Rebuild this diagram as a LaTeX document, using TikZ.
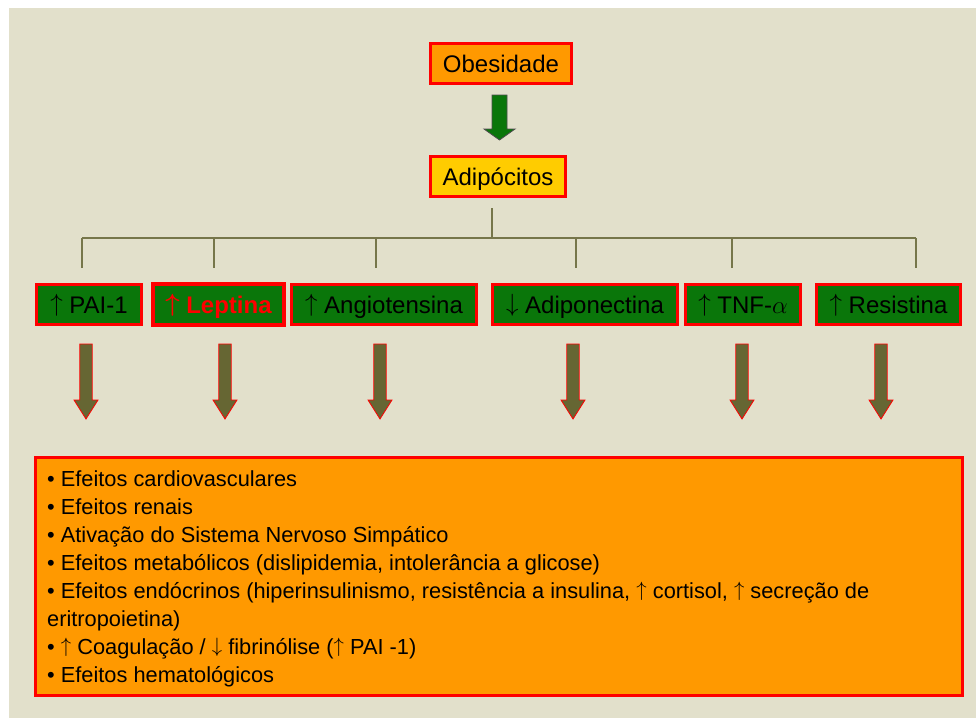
\documentclass[tikz,border=0pt]{standalone}
\usepackage{fontspec}
\setmainfont{Liberation Sans}
\definecolor{bgc}{HTML}{E2E0CB}
\definecolor{boxgreen}{HTML}{0A760A}
\definecolor{orangefill}{HTML}{FF9900}
\definecolor{yellowfill}{HTML}{FFCC00}
\definecolor{olivefill}{HTML}{666633}
\definecolor{treeline}{HTML}{76764A}
\newcommand{\upar}{\raisebox{0.08em}{$\uparrow$}}
\newcommand{\dnar}{\raisebox{0.08em}{$\downarrow$}}
\begin{document}
\begin{tikzpicture}[x=1pt,y=-1pt,
  lbl/.style={draw=red, line width=3pt, minimum height=40pt, inner sep=0pt,
    text height=17.2pt, text depth=0pt,
    font=\fontsize{24}{28}\selectfont, text=black},
  gbox/.style={lbl, fill=boxgreen},
  tree/.style={draw=treeline, line width=1.3pt},
  olivearrow/.pic={\draw[draw=red, line width=0.8pt, fill=olivefill]
    (-6.2,0) -- (6.2,0) -- (6.2,56) -- (12,56) -- (0,75) -- (-12,56) -- (-6.2,56) -- cycle;},
  greenarrow/.pic={\draw[draw=black!70, line width=0.8pt, fill=boxgreen]
    (-7.5,0) -- (7.5,0) -- (7.5,34) -- (15.5,34) -- (0,45) -- (-15.5,34) -- (-7.5,34) -- cycle;}
]
\useasboundingbox (0,0) rectangle (976,718);
\fill[white] (0,0) rectangle (976,718);
\fill[bgc] (9,8) rectangle (976,718);

\node[lbl, fill=orangefill, minimum width=141pt] (obes) at (501,63.5) {Obesidade};
\node[lbl, fill=yellowfill, minimum width=135pt] (adip) at (498,176.5) {Adipócitos};
\pic at (499.5,95) {greenarrow};

\node[gbox, minimum width=105pt] (pai) at (89,304.5) {\upar{} PAI-1};
\node[gbox, line width=4pt, minimum width=131pt, minimum height=41pt, text=red,
  font=\fontsize{24}{28}\selectfont\bfseries\boldmath] (lep) at (218.5,304.5) {\upar{} Leptina};
\node[gbox, minimum width=185pt] (ang) at (384,304.5) {\upar{} Angiotensina};
\node[gbox, minimum width=185pt] (adipo) at (585,304.5) {\dnar{} Adiponectina};
\node[gbox, minimum width=115pt] (tnf) at (743,304.5) {\upar{} TNF-$\alpha$};
\node[gbox, minimum width=144pt] (res) at (888.5,304.5) {\upar{} Resistina};

\coordinate (t0) at (492,208);
\coordinate (hub) at (492,238);
\foreach \i/\x in {1/82,2/214,3/376,4/576,5/732,6/916} {\coordinate (leaf\i) at (\x,268);}
\draw[tree] (t0) -- (hub);
\draw[tree] (leaf1 |- hub) -- (leaf6 |- hub);
\foreach \i in {1,...,6} {\draw[tree] (leaf\i |- hub) -- (leaf\i);}

\foreach \x in {86,225,380,573,742,881} {\pic at (\x,344) {olivearrow};}

\node[draw=red, line width=3pt, fill=orangefill, minimum width=927pt, minimum height=238pt] (effects) at (499,576.5) {};
\node[anchor=north west, inner sep=0pt, align=left, font=\fontsize{21.8}{28}\selectfont] (efftext) at (47,470.5)
 {• Efeitos cardiovasculares\\
  • Efeitos renais\\
  • Ativação do Sistema Nervoso Simpático\\
  • Efeitos metabólicos (dislipidemia, intolerância a glicose)\\
  • Efeitos endócrinos (hiperinsulinismo, resistência a insulina, \upar{} cortisol, \upar{} secreção de\\
  eritropoietina)\\
  • \upar{} Coagulação / \dnar{} fibrinólise (\upar{} PAI -1)\\
  • Efeitos hematológicos};
\end{tikzpicture}
\end{document}
